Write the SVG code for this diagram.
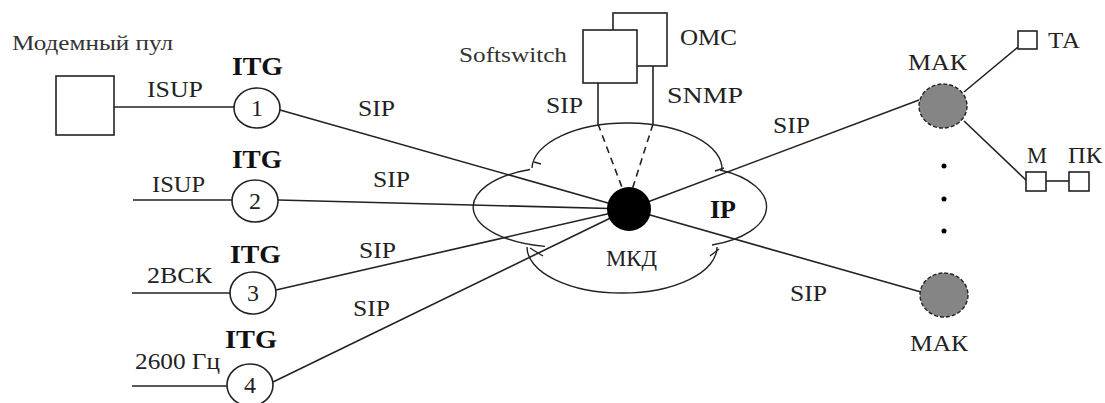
<svg xmlns="http://www.w3.org/2000/svg" width="1105" height="403" viewBox="0 0 1105 403">
<style>
.t{font-family:"Liberation Serif","Times New Roman",serif;font-size:24px;fill:#222}
.b{font-family:"Liberation Serif","Times New Roman",serif;font-size:26px;font-weight:bold;fill:#111}
.s{font-family:"Liberation Serif","Times New Roman",serif;font-size:21px;fill:#333}
.ln{stroke:#222;stroke-width:1.6;fill:none}
.box{stroke:#222;stroke-width:1.6;fill:#fff}
.itg{stroke:#222;stroke-width:1.6;fill:#fff}
.mak{stroke:#222;stroke-width:1.4;stroke-dasharray:4 2;fill:#858585}
.cl{stroke:#222;stroke-width:1.4;fill:none}
</style>
<rect width="1105" height="403" fill="#fff"/>
<g id="connectors">
<line class="ln" x1="114" y1="107" x2="234" y2="107"/>
<line class="ln" x1="133" y1="200" x2="232" y2="200"/>
<line class="ln" x1="132" y1="293" x2="230" y2="293"/>
<line class="ln" x1="132" y1="386" x2="227" y2="386"/>
<line class="ln" x1="280" y1="110" x2="629" y2="209"/>
<line class="ln" x1="278" y1="200" x2="629" y2="209"/>
<line class="ln" x1="276" y1="290" x2="629" y2="209"/>
<line class="ln" x1="273" y1="382" x2="629" y2="209"/>
<line class="ln" x1="629" y1="209" x2="919" y2="100"/>
<line class="ln" x1="629" y1="209" x2="921" y2="292"/>
<line class="ln" x1="598" y1="83" x2="598" y2="124"/>
<line class="ln" x1="653" y1="66" x2="653" y2="124"/>
<line class="ln" x1="598" y1="124" x2="623" y2="190" stroke-dasharray="7 5"/>
<line class="ln" x1="653" y1="124" x2="632" y2="190" stroke-dasharray="7 5"/>
<line class="ln" x1="964" y1="92" x2="1018" y2="47"/>
<line class="ln" x1="964" y1="121" x2="1027" y2="181"/>
<line class="ln" x1="1046" y1="181" x2="1069" y2="181"/>
</g>
<g id="cloud">
<path class="cl" d="M532,168 A95,46 0 0 1 722,170"/>
<path class="cl" d="M530,169.5 A87,40 0 0 0 545,246.4"/>
<path class="cl" d="M720,170 A77,40 0 0 1 712,245"/>
<path class="cl" d="M527,247 A95,46 0 0 0 717,247"/>
<line class="cl" x1="534" y1="162" x2="541" y2="164"/>
<line class="cl" x1="715" y1="171" x2="724" y2="168"/>
<line class="cl" x1="530" y1="248" x2="543" y2="256"/>
<line class="cl" x1="710" y1="256" x2="719" y2="249"/>
<text class="b" x="710" y="218" textLength="26" lengthAdjust="spacingAndGlyphs">IP</text>
<text class="t" x="606" y="266" textLength="51" lengthAdjust="spacingAndGlyphs">МКД</text>
</g>
<g id="mkd">
<circle cx="629" cy="209" r="22" fill="#000"/>
</g>
<g id="modem">
<text class="s" x="12" y="50" textLength="161" lengthAdjust="spacingAndGlyphs">Модемный пул</text>
<rect class="box" x="56" y="76" width="58" height="59"/>
</g>
<g id="itg1">
<text class="b" x="232" y="75" textLength="51" lengthAdjust="spacingAndGlyphs">ITG</text>
<ellipse class="itg" cx="257" cy="108" rx="23" ry="20"/>
<text class="t" x="257" y="116" text-anchor="middle" font-size="20">1</text>
</g>
<g id="itg2">
<text class="b" x="232" y="168" textLength="50" lengthAdjust="spacingAndGlyphs">ITG</text>
<ellipse class="itg" cx="255" cy="201" rx="23" ry="21"/>
<text class="t" x="255" y="209" text-anchor="middle" font-size="20">2</text>
</g>
<g id="itg3">
<text class="b" x="230" y="263" textLength="51" lengthAdjust="spacingAndGlyphs">ITG</text>
<ellipse class="itg" cx="253" cy="293" rx="23" ry="21"/>
<text class="t" x="253" y="301" text-anchor="middle" font-size="20">3</text>
</g>
<g id="itg4">
<text class="b" x="225" y="348" textLength="52" lengthAdjust="spacingAndGlyphs">ITG</text>
<ellipse class="itg" cx="250" cy="385" rx="23" ry="21"/>
<text class="t" x="250" y="393" text-anchor="middle" font-size="20">4</text>
</g>
<g id="labels">
<text class="t" x="147" y="97" textLength="56" lengthAdjust="spacingAndGlyphs">ISUP</text>
<text class="t" x="152" y="192" textLength="53" lengthAdjust="spacingAndGlyphs">ISUP</text>
<text class="t" x="147" y="283" textLength="65" lengthAdjust="spacingAndGlyphs">2ВСК</text>
<text class="t" x="135" y="369" textLength="85" lengthAdjust="spacingAndGlyphs">2600 Гц</text>
<text class="t" x="358" y="116" textLength="37" lengthAdjust="spacingAndGlyphs">SIP</text>
<text class="t" x="373" y="187" textLength="37" lengthAdjust="spacingAndGlyphs">SIP</text>
<text class="t" x="359" y="258" textLength="37" lengthAdjust="spacingAndGlyphs">SIP</text>
<text class="t" x="353" y="316" textLength="37" lengthAdjust="spacingAndGlyphs">SIP</text>
<text class="t" x="546" y="113" textLength="37" lengthAdjust="spacingAndGlyphs">SIP</text>
<text class="t" x="667" y="103" textLength="76" lengthAdjust="spacingAndGlyphs">SNMP</text>
<text class="t" x="773" y="133" textLength="37" lengthAdjust="spacingAndGlyphs">SIP</text>
<text class="t" x="790" y="301" textLength="37" lengthAdjust="spacingAndGlyphs">SIP</text>
</g>
<g id="omc">
<rect class="box" x="613" y="13" width="54" height="53"/>
<text class="t" x="680" y="45" textLength="57" lengthAdjust="spacingAndGlyphs">OMC</text>
</g>
<g id="softswitch">
<rect class="box" x="583" y="30" width="54" height="53"/>
<text class="s" x="459" y="62" textLength="108" lengthAdjust="spacingAndGlyphs">Softswitch</text>
</g>
<g id="mak1">
<text class="t" x="908" y="70" textLength="59" lengthAdjust="spacingAndGlyphs">МАК</text>
<ellipse class="mak" cx="943" cy="106" rx="24" ry="22"/>
</g>
<g id="dots">
<circle cx="944" cy="166" r="2.5" fill="#000"/>
<circle cx="944" cy="199" r="2.5" fill="#000"/>
<circle cx="944" cy="231" r="2.5" fill="#000"/>
</g>
<g id="mak2">
<ellipse class="mak" cx="944" cy="295" rx="24" ry="22"/>
<text class="t" x="910" y="351" textLength="58" lengthAdjust="spacingAndGlyphs">МАК</text>
</g>
<g id="ta">
<rect class="box" x="1018" y="31" width="19" height="18"/>
<text class="t" x="1048" y="48" textLength="32" lengthAdjust="spacingAndGlyphs">ТА</text>
</g>
<g id="m">
<rect class="box" x="1026" y="172" width="20" height="19"/>
<text class="t" x="1027" y="163" textLength="20" lengthAdjust="spacingAndGlyphs">М</text>
</g>
<g id="pk">
<rect class="box" x="1069" y="172" width="20" height="19"/>
<text class="t" x="1068" y="163" textLength="34" lengthAdjust="spacingAndGlyphs">ПК</text>
</g>
</svg>
